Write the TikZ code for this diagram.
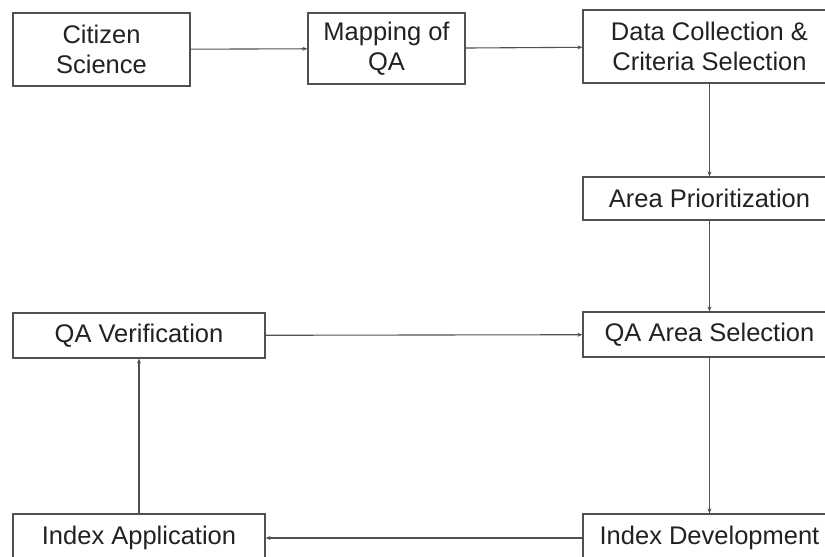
\documentclass[tikz,border=0pt]{standalone}
\usepackage{fontspec}
\setmainfont{Liberation Sans}
\usetikzlibrary{arrows.meta}
\definecolor{linec}{HTML}{505050}
\definecolor{textc}{HTML}{222222}
\tikzset{
  box/.style={draw=linec, line width=1.2pt, fill=white, align=center, inner sep=0pt,
    text=textc, font=\fontsize{25.5}{30}\selectfont},
  conn/.style={draw=linec, line width=1.1pt, -{Stealth[length=5pt,width=4pt]}}
}
\begin{document}
\begin{tikzpicture}[x=1pt,y=-1pt]
\useasboundingbox (0,0) rectangle (825,557);
\clip (0,0) rectangle (825,557);
\node[box, minimum width=177pt, minimum height=73pt] (cs) at (101.5,49.5) {Citizen\\Science};
\node[box, minimum width=157pt, minimum height=71pt] (map) at (386.5,48.5) {Mapping of\\QA};
\node[box, minimum width=253pt, minimum height=73pt] (dc) at (709.5,46.5) {Data Collection \&\\Criteria Selection};
\node[box, minimum width=253pt, minimum height=43pt] (ap) at (709.5,198.5) {Area Prioritization};
\node[box, minimum width=253pt, minimum height=45pt] (qas) at (709.5,334.5) {QA Area Selection};
\node[box, minimum width=252pt, minimum height=45pt] (qv) at (139,335.5) {QA Verification};
\node[box, minimum width=253pt, minimum height=48pt] (id) at (709.5,538) {Index Development};
\node[box, minimum width=252pt, minimum height=48pt] (ia) at (139,538) {Index Application};
\draw[conn] (cs) -- (map);
\draw[conn] (map) -- (dc);
\draw[conn] (dc) -- (ap);
\draw[conn] (ap) -- (qas);
\draw[conn] (qv) -- (qas);
\draw[conn] (qas) -- (id);
\draw[conn] (id) -- (ia);
\draw[conn] (ia) -- (qv);
\end{tikzpicture}
\end{document}
